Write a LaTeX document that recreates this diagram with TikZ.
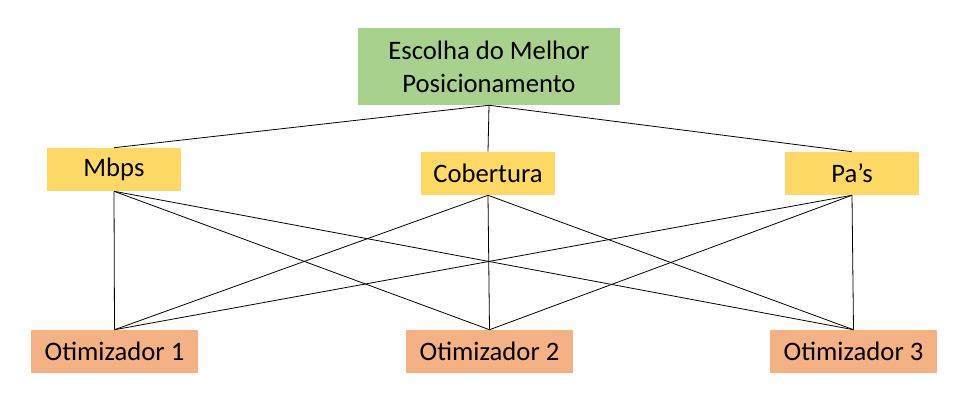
\documentclass[tikz,border=0pt]{standalone}
\usepackage{fontspec}
\setmainfont{Carlito}
\usepackage{xcolor}
\usetikzlibrary{positioning}

\definecolor{boxgreen}{HTML}{A9D18E}
\definecolor{boxyellow}{HTML}{FFD966}
\definecolor{boxorange}{HTML}{F4B183}

\begin{document}
\begin{tikzpicture}[x=0.75pt, y=-0.75pt,
    topbox/.style={fill=boxgreen, minimum width=196.5pt, minimum height=57.75pt, align=center, inner sep=0pt},
    critbox/.style={fill=boxyellow, minimum width=100.5pt, minimum height=32.25pt, inner sep=0pt},
    optbox/.style={fill=boxorange, minimum width=125.25pt, minimum height=32.25pt, inner sep=0pt},
    link/.style={line width=0.6pt}]
    \useasboundingbox (0,0) rectangle (974,402);
    \fontsize{20}{24.75}\selectfont

    % Goal
    \node[topbox] (goal) at (489,66.5) {Escolha do Melhor\\Posicionamento};

    % Criteria
    \node[critbox] (mbps) at (114,169.5) {Mbps};
    \node[critbox] (cob) at (488,173.5) {Cobertura};
    \node[critbox] (pas) at (852,173.5) {Pa’s};

    % Optimizers
    \node[optbox] (opt1) at (114.5,351.5) {Otimizador 1};
    \node[optbox] (opt2) at (489.5,351.5) {Otimizador 2};
    \node[optbox] (opt3) at (853.5,351.5) {Otimizador 3};

    % Goal to criteria
    \foreach \c in {mbps,cob,pas}
        \draw[link] (goal.south) -- (\c.north);

    % Criteria to optimizers
    \foreach \c in {mbps,cob,pas}
        \foreach \o in {opt1,opt2,opt3}
            \draw[link] (\c.south) -- (\o.north);
\end{tikzpicture}
\end{document}
